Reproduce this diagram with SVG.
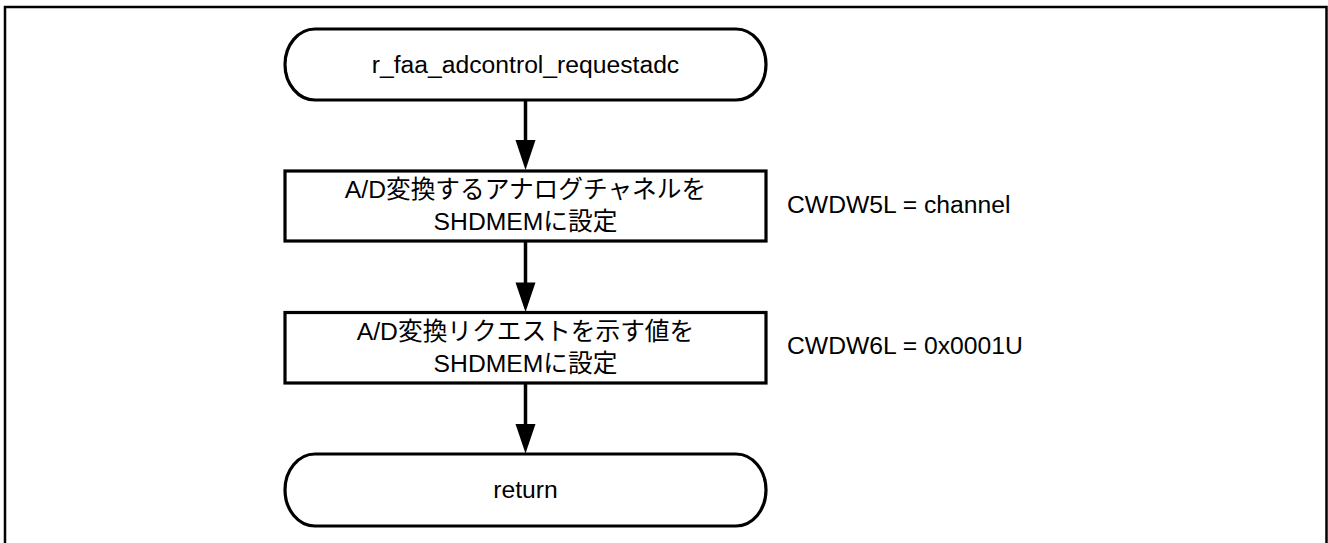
<svg xmlns="http://www.w3.org/2000/svg" width="1328" height="543" viewBox="0 0 1328 543">
  <style>
    .frame { fill: none; stroke: #000; stroke-width: 2.5; }
    .shape { fill: #fff; stroke: #000; stroke-width: 3.2; }
    .flow { stroke: #000; stroke-width: 3.5; fill: none; }
    .head { fill: #000; stroke: none; }
    .txt { font-family: "Liberation Sans", "Noto Sans CJK JP", sans-serif; font-size: 24.7px; fill: #000; }
    .mid { text-anchor: middle; }
  </style>
  <rect width="1328" height="543" fill="#fff"/>
  <!-- outer frame, bottom edge runs past the page -->
  <rect class="frame" x="5" y="7" width="1321.5" height="545"/>

  <g id="connectors">
    <line class="flow" x1="525.5" y1="100" x2="525.5" y2="142"/>
    <polygon class="head" points="515.5,140 535.5,140 525.5,170"/>
    <line class="flow" x1="525.5" y1="241" x2="525.5" y2="284"/>
    <polygon class="head" points="515.5,282.5 535.5,282.5 525.5,312"/>
    <line class="flow" x1="525.5" y1="383" x2="525.5" y2="426"/>
    <polygon class="head" points="515.5,424 535.5,424 525.5,453.5"/>
  </g>

  <g id="start">
    <rect class="shape" x="285" y="29" width="481" height="71" rx="30" ry="35.5"/>
    <text class="txt mid" x="525.5" y="72.5">r_faa_adcontrol_requestadc</text>
  </g>

  <g id="set-channel">
    <rect class="shape" x="285" y="171" width="481" height="70"/>
    <text class="txt mid" x="525.5" y="198">A/D変換するアナログチャネルを</text>
    <text class="txt mid" x="525.5" y="230">SHDMEMに設定</text>
  </g>
  <text id="note-channel" class="txt" x="787" y="213">CWDW5L = channel</text>

  <g id="set-request">
    <rect class="shape" x="285" y="312.5" width="481" height="70.5"/>
    <text class="txt mid" x="525.5" y="339.5">A/D変換リクエストを示す値を</text>
    <text class="txt mid" x="525.5" y="371.5">SHDMEMに設定</text>
  </g>
  <text id="note-request" class="txt" x="787" y="353.5">CWDW6L = 0x0001U</text>

  <g id="end">
    <rect class="shape" x="285" y="454" width="481" height="72" rx="30" ry="36"/>
    <text class="txt mid" x="525.5" y="498">return</text>
  </g>
</svg>
